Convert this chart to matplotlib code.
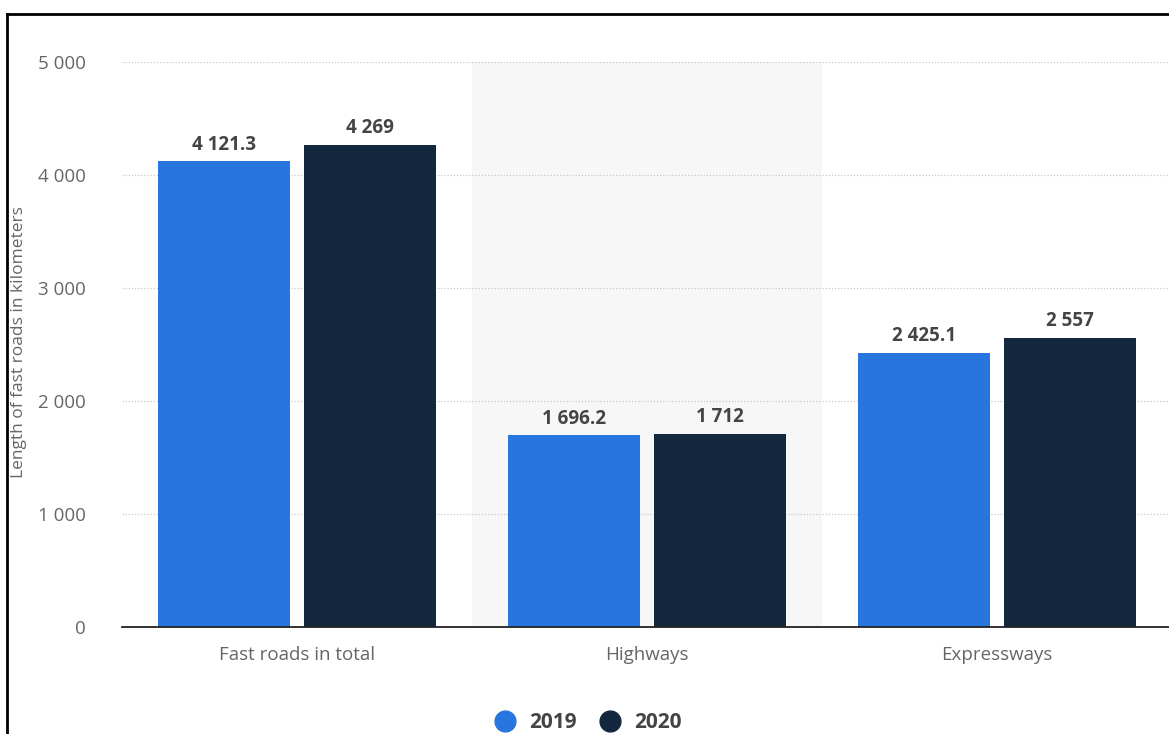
import numpy as np
import matplotlib.pyplot as plt
from matplotlib.lines import Line2D

categories = ['Fast roads in total', 'Highways', 'Expressways']
years = ['2019', '2020']
vals_2019 = [4121.3, 1696.2, 2425.1]
vals_2020 = [4269, 1712, 2557]
labels_2019 = ['4 121.3', '1 696.2', '2 425.1']
labels_2020 = ['4 269', '1 712', '2 557']
yticks = [0, 1000, 2000, 3000, 4000, 5000]
ytick_labels = ['0', '1 000', '2 000', '3 000', '4 000', '5 000']

plt.rcParams['font.family'] = ['Open Sans', 'DejaVu Sans']

c19 = '#2876dd'
c20 = '#13283e'

fig = plt.figure(figsize=(11.69, 7.34), dpi=100)
ax = fig.add_axes([122 / 1169, 1 - 627 / 734, 1050 / 1169, (627 - 62) / 734])

x = np.arange(len(categories))
w = 0.377
b1 = ax.bar(x - 0.208, vals_2019, w, color=c19, zorder=3)
b2 = ax.bar(x + 0.208, vals_2020, w, color=c20, zorder=3)

for bars, labs in [(b1, labels_2019), (b2, labels_2020)]:
    for r, t in zip(bars, labs):
        ax.text(r.get_x() + r.get_width() / 2, r.get_height() + 60, t,
                ha='center', va='bottom', fontsize=13.5, fontweight='bold', color='#444444')

# shaded middle category
ax.axvspan(0.5, 1.5, color='#f7f7f7', zorder=0, lw=0)

ax.set_xlim(-0.5, 2.5)
ax.set_ylim(0, 5000)
ax.set_yticks(yticks)
ax.set_yticklabels(ytick_labels)
ax.yaxis.grid(True, linestyle=(0, (1, 1.5)), color='#c8c8c8', lw=0.9, zorder=1)
ax.set_xticks(x)
ax.set_xticklabels(categories)
ax.tick_params(axis='y', length=0, pad=26, labelsize=13.5, labelcolor='#666666')
ax.tick_params(axis='x', length=0, pad=14, labelsize=13.5, labelcolor='#666666')
for s in ['top', 'right', 'left']:
    ax.spines[s].set_visible(False)
ax.spines['bottom'].set_color('#222222')
ax.spines['bottom'].set_linewidth(1.3)
ax.spines['bottom'].set_zorder(4)

fig.text(19 / 1169, 1 - 342 / 734, 'Length of fast roads in kilometers', rotation=90,
         ha='center', va='center', fontsize=12.5, color='#666666')

# legend
handles = [Line2D([], [], marker='o', ls='', markersize=15, color=c19),
           Line2D([], [], marker='o', ls='', markersize=15, color=c20)]
fig.legend(handles, years, loc='center', bbox_to_anchor=(583 / 1169, 1 - 723 / 734),
           ncol=2, frameon=False, handletextpad=0.15, columnspacing=0.6,
           prop={'size': 15, 'weight': 'bold'}, labelcolor='#444444')

# outer frame
fig.add_artist(Line2D([7 / 1169, 1], [1 - 14 / 734, 1 - 14 / 734], color='black', lw=2))
fig.add_artist(Line2D([7 / 1169, 7 / 1169], [0, 1 - 14 / 734], color='black', lw=2))

fig.savefig('out.png', dpi=100)
